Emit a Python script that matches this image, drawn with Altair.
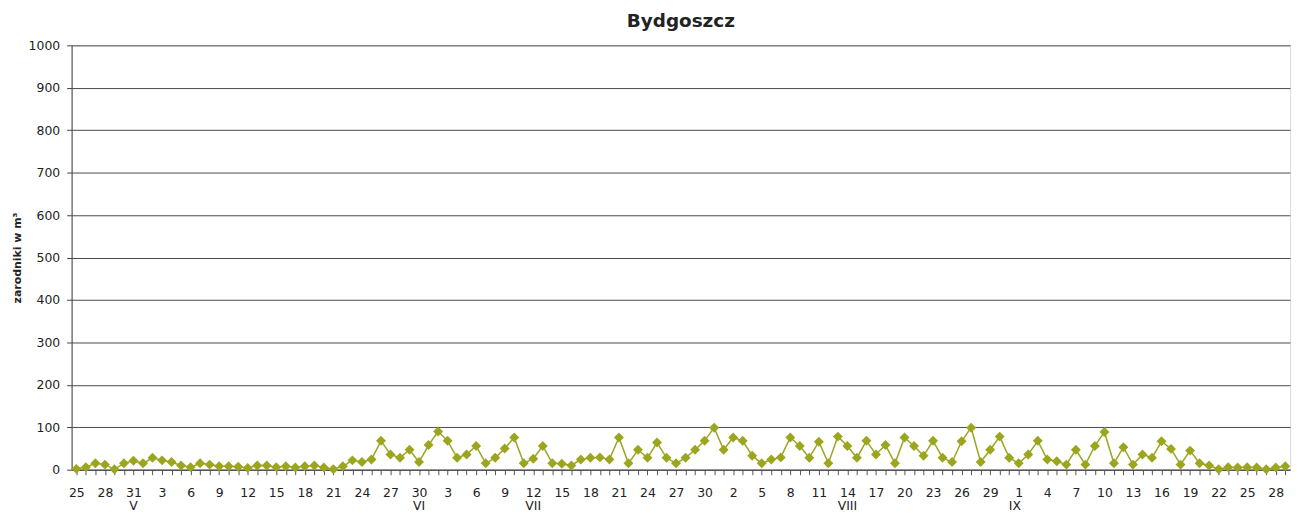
import altair as alt
import pandas as pd

# day-of-month labels for the category axis (25 May - 29 Sep)
days_may = list(range(25, 32))
days_jun = list(range(1, 31))
days_jul = list(range(1, 32))
days_aug = list(range(1, 32))
days_sep = list(range(1, 30))

# spore counts
v_may = [2, 6, 15, 12, 1, 15, 21]
v_jun = [15, 28, 22, 18, 10, 6, 15, 12, 8, 8, 7, 4, 10, 10, 6, 8, 5, 8, 10, 5,
         1, 8, 22, 18, 24, 68, 36, 28, 47, 18]
v_jul = [58, 90, 68, 28, 36, 56, 15, 28, 50, 76, 15, 26, 56, 15, 14, 10, 24, 28, 29, 24,
         76, 15, 47, 28, 64, 28, 15, 28, 47, 68, 99]
v_aug = [47, 76, 68, 33, 15, 24, 29, 76, 56, 28, 66, 15, 78, 56, 28, 68, 36, 58, 15, 76,
         56, 33, 68, 28, 18, 67, 99, 18, 47, 78, 28]
v_sep = [15, 36, 68, 24, 20, 12, 47, 12, 56, 89, 15, 53, 12, 36, 28, 67, 49, 12, 45, 15,
         10, 1, 6, 5, 6, 5, 1, 5, 8]

months = ["V", "VI", "VII", "VIII", "IX"]
month_pos = [6, 36, 48, 81, 98.6]

y_ticks = list(range(0, 1001, 100))

days = days_may + days_jun + days_jul + days_aug + days_sep
values = v_may + v_jun + v_jul + v_aug + v_sep
n = len(values)

df = pd.DataFrame({"i": list(range(n)), "day": days, "v": values})
mdf = pd.DataFrame({"i": month_pos, "m": months})

FONT = "DejaVu Sans"
COL = "#9ba61e"

label_arr = "[" + ",".join("'%d'" % d for d in days) + "]"
label_expr = "datum.value % 3 == 0 ? " + label_arr + "[datum.value] : ''"

xscale = alt.Scale(domain=[-0.5, n - 0.5], nice=False, zero=False)
xaxis = alt.Axis(
    values=list(range(n)),
    labelExpr=label_expr,
    tickSize=5,
    labelPadding=12,
    grid=False,
    title=None,
    labelOverlap=False,
    labelFlush=False,
    domainColor="#444444",
    tickColor="#555555",
    labelFont=FONT,
    labelFontSize=12.5,
    labelColor="#222222",
)

yscale = alt.Scale(domain=[0, 1000], nice=False)
yaxis = alt.Axis(
    values=y_ticks,
    format="d",
    tickSize=5,
    labelPadding=7,
    grid=True,
    gridColor="#4a4a4a",
    gridWidth=1,
    domainColor="#444444",
    tickColor="#444444",
    labelFont=FONT,
    labelFontSize=12.5,
    labelColor="#222222",
    title="zarodniki w m³",
    titleFont=FONT,
    titleFontSize=11,
    titleFontWeight="bold",
    titleColor="#222222",
    titleX=-51,
    titleAngle=270,
    titleBaseline="alphabetic",
)

base = alt.Chart(df)
line = base.mark_line(color=COL, strokeWidth=1.5).encode(
    x=alt.X("i:Q", scale=xscale, axis=xaxis),
    y=alt.Y("v:Q", scale=yscale, axis=yaxis),
)
pts = base.mark_point(shape="diamond", filled=True, size=100, opacity=1, color=COL).encode(
    x=alt.X("i:Q", scale=xscale, axis=xaxis),
    y=alt.Y("v:Q", scale=yscale, axis=yaxis),
)
mlab = alt.Chart(mdf).mark_text(
    baseline="alphabetic", align="center", font=FONT, fontSize=12.5, color="#222222"
).encode(
    x=alt.X("i:Q", scale=xscale, axis=xaxis),
    y=alt.value(467.5),
    text="m:N",
)

chart = (
    alt.layer(line, pts, mlab)
    .properties(
        width=1226,
        height=427,
        title=alt.TitleParams(
            "Bydgoszcz",
            font=FONT,
            fontSize=18.5,
            fontWeight="bold",
            color="#222222",
            anchor="middle",
            offset=9,
        ),
        autosize=alt.AutoSizeParams(type="none"),
        padding={"left": 64, "top": 36, "right": 2, "bottom": 42},
    )
    .configure_view(stroke=None)
    .configure(background="white")
)

chart.save("out.html", embed_options={"renderer": "svg", "actions": False})
